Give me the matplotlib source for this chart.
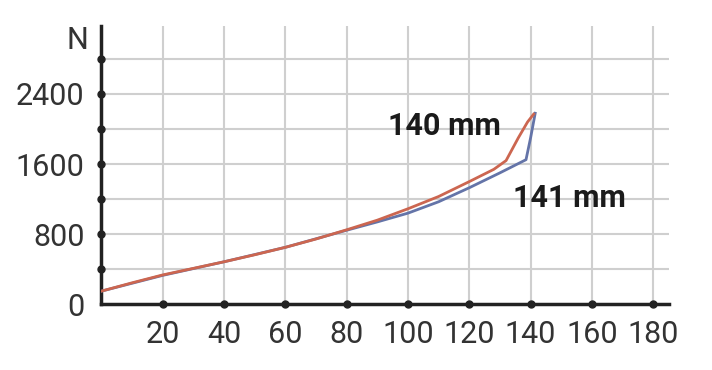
import matplotlib
matplotlib.use("Agg")
import matplotlib.pyplot as plt
import numpy as np

# data
red_x = [0, 10, 20, 30, 40, 50, 60, 70, 80, 90, 100, 110, 120, 128, 132, 136, 139, 141]
red_y = [150, 245, 335, 410, 485, 565, 650, 745, 850, 960, 1090, 1230, 1400, 1540, 1640, 1900, 2080, 2170]
blue_x = [0, 20, 40, 60, 80, 90, 100, 110, 120, 130, 138.5, 140, 141.5]
blue_y = [150, 330, 485, 650, 845, 940, 1040, 1170, 1330, 1500, 1650, 1900, 2180]
x_ticks = [20, 40, 60, 80, 100, 120, 140, 160, 180]
y_dot_ticks = [400, 800, 1200, 1600, 2000, 2400, 2800]
y_label_ticks = [0, 800, 1600, 2400]
red_label = "140 mm"
blue_label = "141 mm"

font = ['Roboto', 'DejaVu Sans']
fig = plt.figure(figsize=(7.12, 3.70), dpi=100)
ax = fig.add_axes([0.1424, 0.1776, 0.7966, 0.7508])
ax.set_xlim(0, 185)
ax.set_ylim(0, 3170)

grid_c = '#cfcfcf'
for y in y_dot_ticks:
    ax.axhline(y, color=grid_c, lw=1.5, zorder=0)
for x in x_ticks:
    ax.axvline(x, color=grid_c, lw=1.5, zorder=0)

ax.plot(blue_x, blue_y, color='#6474a8', lw=2.0, zorder=3)
ax.plot(red_x, red_y, color='#cc6650', lw=2.0, zorder=4)

for s in ['top', 'right']:
    ax.spines[s].set_visible(False)
for s in ['left', 'bottom']:
    ax.spines[s].set_color('#222222')
    ax.spines[s].set_linewidth(2.5)

ax.set_xticks(x_ticks)
ax.set_xticklabels([str(v) for v in x_ticks])
ax.set_yticks(y_label_ticks)
ax.set_yticklabels([str(v) for v in y_label_ticks])
ax.tick_params(axis='y', length=0, labelsize=22, colors='#333333', pad=12)
ax.tick_params(axis='x', length=0, labelsize=22, colors='#333333', pad=11)
for lab in ax.get_xticklabels() + ax.get_yticklabels():
    lab.set_family(font)

ax.plot(x_ticks, [0] * len(x_ticks), 'o', color='#222222', ms=5, clip_on=False, zorder=5)
ax.plot([0] * len(y_dot_ticks), y_dot_ticks, 'o', color='#222222', ms=5, clip_on=False, zorder=5)

ax.text(-4.4, 3010, 'N', ha='right', va='center', fontsize=22, color='#333333', family=font)
ax.text(112, 2033, red_label, ha='center', va='center', fontsize=22, fontweight='bold', color='#1a1a1a', family=font)
ax.text(152.8, 1216, blue_label, ha='center', va='center', fontsize=22, fontweight='bold', color='#1a1a1a', family=font)

fig.savefig('out.png', dpi=100, facecolor='white')
